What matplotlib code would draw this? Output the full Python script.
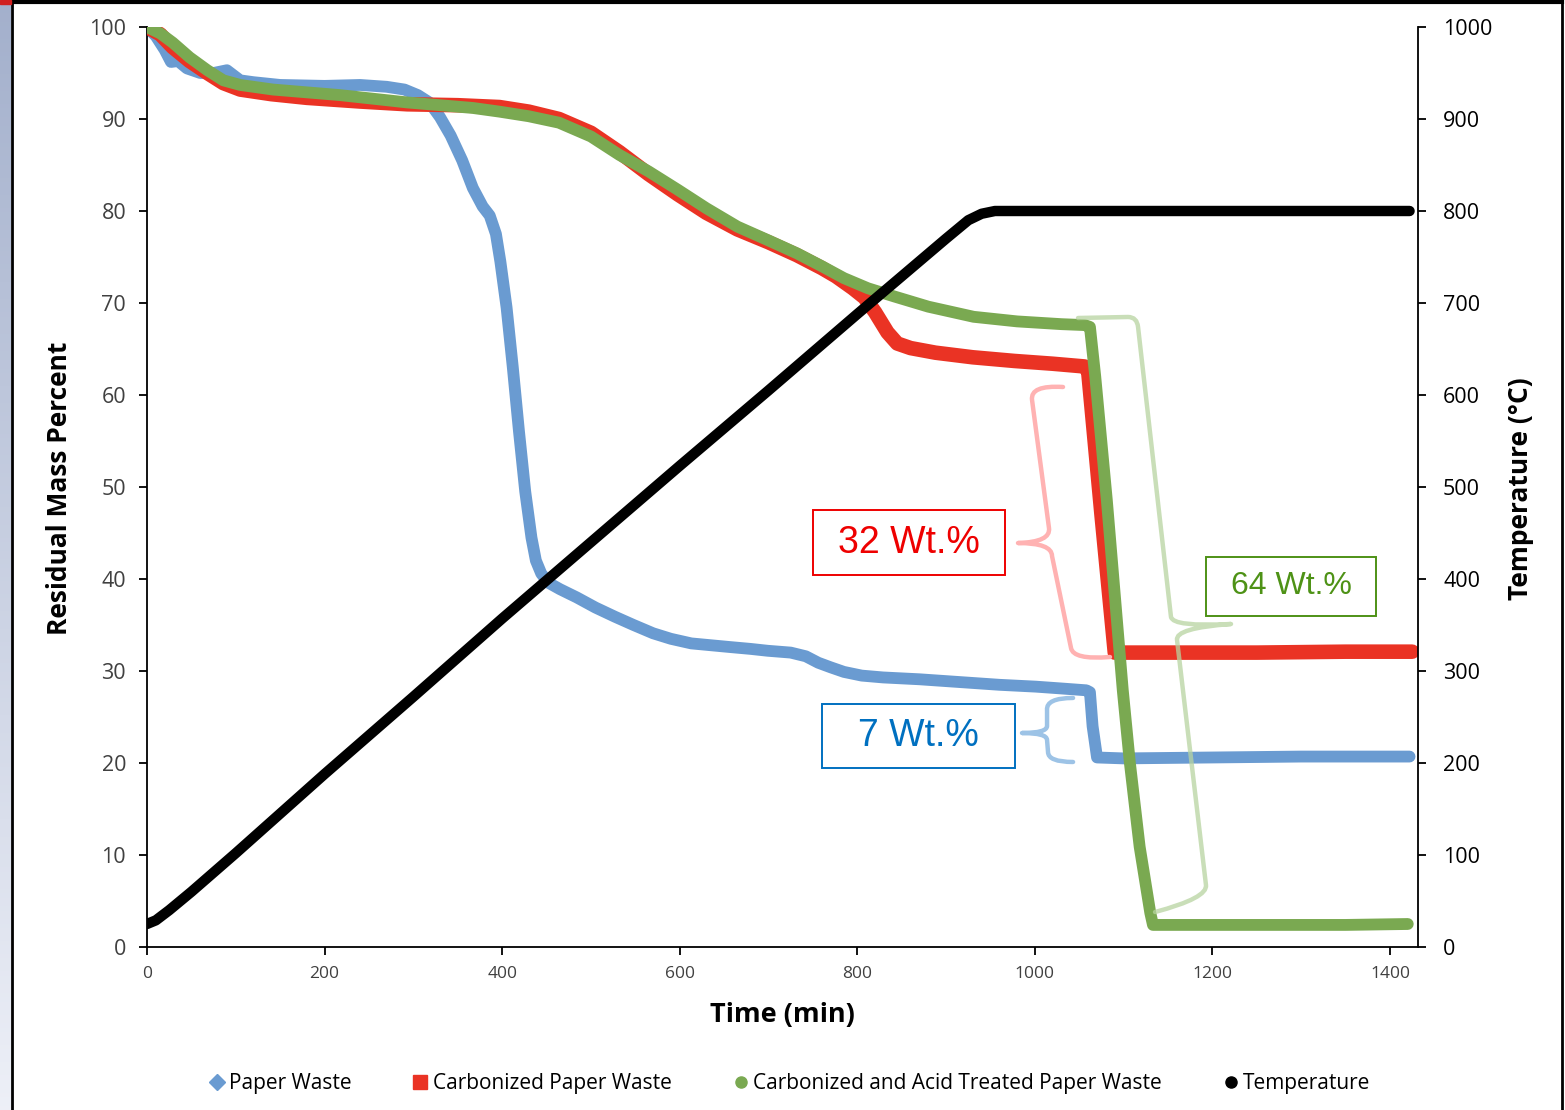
import numpy as np
import matplotlib.pyplot as plt
from matplotlib.lines import Line2D
from matplotlib.patches import Rectangle, PathPatch
from matplotlib.path import Path

plt.rcParams['font.family'] = ['Open Sans', 'DejaVu Sans']

BLUE = '#6a9bd1'
RED = '#ea3324'
GREEN = '#7aa951'
BLACK = '#000000'

# ── TGA data ──────────────────────────────────────────────────────────────────
paper_t = [0, 10, 20, 27, 35, 45, 60, 75, 90, 105, 120, 150, 200, 240, 270, 290,
           305, 318, 330, 342, 355, 367, 378, 386, 393, 398, 405, 412, 419, 426,
           433, 438, 444, 452, 465, 484, 505, 527, 548, 570, 590, 613, 635, 657,
           680, 699, 725, 742, 756, 770, 785, 805, 829, 870, 915, 960, 1001,
           1030, 1058, 1062, 1065, 1070, 1100, 1200, 1300, 1422]
paper_m = [100, 99, 97.5, 96.2, 96.3, 95.5, 95, 95, 95.3, 94.2, 94, 93.7, 93.6,
           93.7, 93.5, 93.2, 92.6, 91.8, 90.2, 88.2, 85.5, 82.5, 80.5, 79.5, 77.5,
           74.5, 69.5, 63, 56, 49.5, 44.5, 42, 40.6, 39.6, 38.9, 38, 36.9, 35.9,
           35, 34.1, 33.5, 33, 32.8, 32.6, 32.4, 32.2, 32, 31.6, 30.9, 30.4, 29.9,
           29.5, 29.3, 29.1, 28.8, 28.5, 28.3, 28.1, 27.9, 27.7, 24, 20.6, 20.5,
           20.6, 20.7, 20.7]

carb_t = [0, 15, 29, 48, 68, 86, 105, 140, 180, 240, 293, 350, 397, 430, 464,
          500, 532, 565, 598, 630, 665, 700, 732, 760, 776, 795, 808, 820, 834,
          845, 860, 888, 930, 977, 1020, 1056, 1060, 1075, 1090, 1150, 1250,
          1350, 1425]
carb_m = [100, 99.2, 97.8, 96.3, 95, 93.9, 93.2, 92.7, 92.3, 91.9, 91.6, 91.5,
          91.3, 90.8, 90.0, 88.5, 86.4, 84.0, 81.8, 79.8, 78.0, 76.6, 75.2, 73.8,
          72.9, 71.6, 70.6, 69, 66.8, 65.6, 65.1, 64.6, 64.1, 63.7, 63.4, 63.1,
          62.6, 47, 32, 32, 32, 32.1, 32.1]

acid_t = [0, 15, 29, 48, 68, 86, 105, 142, 217, 293, 367, 397, 430, 464, 500,
          532, 565, 598, 630, 665, 700, 732, 760, 785, 812, 842, 880, 931, 980,
          1030, 1056, 1062, 1068, 1081, 1099, 1107, 1118, 1130, 1133, 1140,
          1250, 1350, 1420]
acid_m = [100, 99.3, 98.3, 96.7, 95.3, 94.2, 93.7, 93.2, 92.6, 91.8, 91.2, 90.8,
          90.3, 89.6, 88.1, 86.1, 84.3, 82.3, 80.3, 78.3, 76.8, 75.4, 74, 72.7,
          71.6, 70.7, 69.6, 68.5, 68, 67.7, 67.6, 67.4, 62, 48.6, 27.9, 20, 10.9,
          3.7, 2.4, 2.4, 2.4, 2.4, 2.5]

temp_t = [0, 10, 25, 50, 100, 200, 300, 400, 500, 600, 700, 800, 900, 925, 940,
          955, 1000, 1100, 1200, 1300, 1422]
temp_c = [25, 29, 40, 60, 102, 188, 272, 357, 440, 523, 605, 688, 770, 790, 797,
          800, 800, 800, 800, 800, 800]

labels = ['Paper Waste', 'Carbonized Paper Waste',
          'Carbonized and Acid Treated Paper Waste', 'Temperature']

# ── Figure ────────────────────────────────────────────────────────────────────
W, H = 1565, 1110
fig = plt.figure(figsize=(W / 100, H / 100), dpi=100)
fig.patch.set_facecolor('white')

ax = fig.add_axes([147 / W, 1 - 947 / H, (1418 - 147) / W, 920 / H])
ax2 = ax.twinx()

style = dict(solid_capstyle='round', solid_joinstyle='round')
ax.plot(paper_t, paper_m, color=BLUE, lw=8.5, zorder=2, **style)
ax.plot(carb_t, carb_m, color=RED, lw=10.5, zorder=3, **style)
ax.plot(acid_t, acid_m, color=GREEN, lw=8.5, zorder=4, **style)
ax2.plot(temp_t, temp_c, color=BLACK, lw=7.5, zorder=5, **style)

ax.set_xlim(0, 1431.5)
ax.set_ylim(0, 100)
ax2.set_ylim(0, 1000)
ax.set_xticks(np.arange(0, 1401, 200))
ax.set_yticks(np.arange(0, 101, 10))
ax2.set_yticks(np.arange(0, 1001, 100))

for a in (ax, ax2):
    a.spines['top'].set_visible(False)
    for s in ('left', 'right', 'bottom'):
        a.spines[s].set_linewidth(1.3)
ax.spines['right'].set_visible(False)
ax2.spines['left'].set_visible(False)
ax2.spines['bottom'].set_visible(False)

ax.tick_params(axis='y', direction='out', length=6, width=1.3,
               labelsize=15.5, labelcolor='#404040', pad=9)
ax.tick_params(axis='x', direction='out', length=6, width=1.3,
               labelsize=12.5, labelcolor='#404040', pad=8)
ax2.tick_params(axis='y', direction='out', length=6, width=1.3,
                labelsize=15.5, labelcolor='black', pad=12)

fig.text(60 / W, 1 - 488 / H, 'Residual Mass Percent', rotation=90,
         ha='center', va='center', fontsize=19, fontweight='bold')
fig.text(1521 / W, 1 - 489 / H, 'Temperature (°C)', rotation=90,
         ha='center', va='center', fontsize=19, fontweight='bold')
fig.text(782 / W, 1 - 1015 / H, 'Time (min)', ha='center', va='center',
         fontsize=19.5, fontweight='bold')

# ── Mass-loss annotations (time / mass coordinates) ──────────────────────────
M, C3, L = Path.MOVETO, Path.CURVE3, Path.LINETO


def brace(verts, codes, color, alpha=1.0):
    ax2.add_patch(PathPatch(Path(verts, codes), transform=ax.transData,
                            fill=False, edgecolor=color, lw=3.2, alpha=alpha,
                            capstyle='round', joinstyle='round', zorder=6))


brace([(1031.7, 60.87), (994.5, 61.09), (996.8, 59.46), (1015.9, 45.54),
       (1018.2, 44.02), (981.0, 43.91), (1019.3, 43.91), (1019.3, 42.5),
       (1040.7, 32.5), (1043.0, 31.2), (1084.6, 31.52)],
      [M, C3, C3, L, C3, C3, C3, C3, L, C3, C3], '#ffb2b2')

brace([(1048.6, 68.37), (1104.9, 68.48), (1115.0, 68.48), (1116.2, 67.39),
       (1153.3, 35.87), (1155.6, 34.78), (1220.9, 35.11), (1157.8, 34.67),
       (1160.1, 33.37), (1192.7, 6.74), (1195.0, 5.33), (1135.3, 3.80)],
      [M, L, C3, C3, L, C3, C3, C3, C3, L, C3, C3], '#b7d4a0', alpha=0.75)

brace([(1043.0, 27.07), (1012.5, 27.07), (1013.7, 25.76), (1013.7, 24.02),
       (1013.7, 23.26), (985.5, 23.26), (1013.7, 23.26), (1013.7, 22.5),
       (1014.8, 21.2), (1014.8, 20.11), (1043.0, 20.11)],
      [M, C3, C3, L, C3, C3, C3, C3, L, C3, C3], '#9dc3e6')


def wt_box(x0, x1, y0, y1, text, color, size):
    ax2.add_patch(Rectangle((x0, y0), x1 - x0, y1 - y0, transform=ax.transData,
                            facecolor='white', edgecolor=color, lw=1.4, zorder=7))
    ax2.text((x0 + x1) / 2, (y0 + y1) / 2, text, transform=ax.transData,
             ha='center', va='center', color=color, fontsize=size, zorder=8,
             family=['Liberation Sans', 'DejaVu Sans'])


wt_box(750.2, 966.5, 40.4, 47.5, '32 Wt.%', '#ee0000', 27)
wt_box(760.2, 977.6, 19.5, 26.4, '7 Wt.%', '#0070c0', 27)
wt_box(1192.7, 1384.1, 36.0, 42.4, '64 Wt.%', '#4e9216', 23)

# ── Legend ────────────────────────────────────────────────────────────────────
handles = [
    Line2D([], [], ls='none', marker='D', ms=8, color=BLUE),
    Line2D([], [], ls='none', marker='s', ms=10, color=RED),
    Line2D([], [], ls='none', marker='o', ms=8, color=GREEN),
    Line2D([], [], ls='none', marker='o', ms=8, color=BLACK),
]
fig.legend(handles, labels, loc='center', bbox_to_anchor=(0.505, 1 - 1084 / H),
           ncol=4, frameon=False, fontsize=15, handlelength=0.6,
           handletextpad=0.3, columnspacing=3.0)

# ── Page frame ────────────────────────────────────────────────────────────────
strip = fig.add_axes([0, 0, 11 / W, 1])
grad = np.linspace(0, 1, 256)[:, None]
cols = np.array([[0.64, 0.69, 0.80]]) * (1 - grad) + np.array([[0.93, 0.94, 0.97]]) * grad
strip.imshow(cols[:, None, :], aspect='auto', extent=[0, 1, 0, 1], origin='upper')
strip.axis('off')
fig.add_artist(Rectangle((0, 1 - 4 / H), 11 / W, 4 / H, transform=fig.transFigure,
                         color='#d02020', zorder=10))
fig.add_artist(Line2D([12 / W, 12 / W], [0, 1], transform=fig.transFigure,
                      color='black', lw=2))
fig.add_artist(Line2D([12 / W, 1562 / W], [1 - 2 / H, 1 - 2 / H],
                      transform=fig.transFigure, color='black', lw=3))
fig.add_artist(Line2D([1562 / W, 1562 / W], [0, 1], transform=fig.transFigure,
                      color='black', lw=2))

fig.savefig('out.png', dpi=100)
